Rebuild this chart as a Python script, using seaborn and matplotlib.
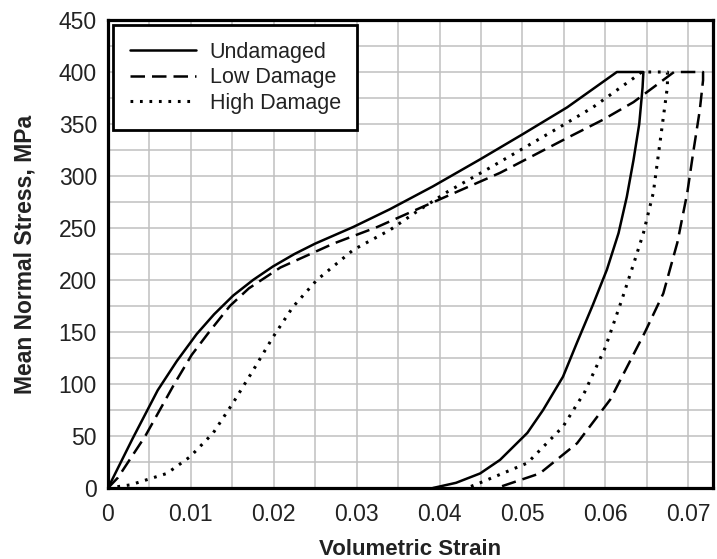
import matplotlib
matplotlib.use("Agg")
import matplotlib.pyplot as plt
import seaborn as sns
import numpy as np

# ---- data ----
undamaged_strain = [0, 0.0030, 0.0060, 0.0083, 0.0107, 0.0128, 0.0151, 0.0175, 0.0199,
                    0.0225, 0.0250, 0.0296,
                    0.0340, 0.0392, 0.0449, 0.0500, 0.0554, 0.0614, 0.0646, 0.0645, 0.0641,
                    0.0634, 0.0626, 0.0616, 0.0602, 0.0585, 0.0566, 0.0549, 0.0525, 0.0506,
                    0.0473, 0.0449, 0.0420, 0.0392]
undamaged_stress = [0, 48, 94, 122, 148, 167, 185, 200, 213,
                    225, 235, 251,
                    268, 290, 316, 340, 366, 400, 400, 385, 350,
                    315, 280, 245, 210, 176, 140, 107, 75, 53,
                    27, 14, 5, 0]

low_strain = [0, 0.0012, 0.0045, 0.0080, 0.0101, 0.0122, 0.0147, 0.0170, 0.0208, 0.0272, 0.0325,
              0.0373, 0.0433, 0.0473, 0.0555, 0.0597, 0.0634, 0.0683, 0.0718, 0.0718,
              0.0714, 0.0706, 0.0699, 0.0687, 0.0670, 0.0648, 0.0606, 0.0566, 0.0521, 0.0469]
low_stress = [0, 10, 50, 100, 128, 150, 175, 192, 212, 235, 251,
              268, 289, 303, 337, 354, 371, 400, 400, 392,
              363, 322, 284, 236, 187, 150, 85, 43, 14, 0]

high_strain = [0, 0.0027, 0.0071, 0.0099, 0.0127, 0.0151, 0.0175, 0.0199, 0.0223, 0.0252,
               0.0296, 0.0340, 0.0373, 0.0410, 0.0461, 0.0545, 0.0585, 0.0634, 0.0644,
               0.0675, 0.0675, 0.0666, 0.0658, 0.0646, 0.0634, 0.0620, 0.0600, 0.0575,
               0.0549, 0.0506, 0.0449, 0.0433]
high_stress = [0, 3, 14, 30, 53, 82, 113, 145, 174, 200,
               229, 248, 266, 285, 308, 347, 366, 394, 400,
               400, 386, 332, 284, 245, 215, 181, 135, 92,
               59, 24, 5, 0]

series_labels = ["Undamaged", "Low Damage", "High Damage"]
x_ticks = [0, 0.01, 0.02, 0.03, 0.04, 0.05, 0.06, 0.07]
x_tick_labels = ["0", "0.01", "0.02", "0.03", "0.04", "0.05", "0.06", "0.07"]
y_ticks = [0, 50, 100, 150, 200, 250, 300, 350, 400, 450]
y_tick_labels = ["0", "50", "100", "150", "200", "250", "300", "350", "400", "450"]

# ---- style ----
sns.set_style("white")
plt.rcParams["font.family"] = ["Liberation Sans", "DejaVu Sans"]

fig = plt.figure(figsize=(7.17, 5.59), dpi=100)
ax = fig.add_axes([108 / 717, 1 - 488 / 559, (713 - 108) / 717, (488 - 20) / 559])

sns.lineplot(x=undamaged_strain, y=undamaged_stress, sort=False, estimator=None,
             color="black", lw=1.8, ax=ax, label=series_labels[0])
sns.lineplot(x=low_strain, y=low_stress, sort=False, estimator=None,
             color="black", lw=1.8, linestyle=(0, (5.8, 2.8)), ax=ax, label=series_labels[1])
sns.lineplot(x=high_strain, y=high_stress, sort=False, estimator=None,
             color="black", lw=2.2, linestyle=(0, (0.9, 2.2)), ax=ax, label=series_labels[2])

ax.set_xlim(0, 0.0730)
ax.set_ylim(0, 450)
ax.set_xticks(x_ticks)
ax.set_xticklabels(x_tick_labels)
ax.set_yticks(y_ticks)
ax.set_yticklabels(y_tick_labels)
ax.set_xticks(np.arange(0, 0.0731, 0.005), minor=True)
ax.set_yticks(np.arange(0, 451, 25), minor=True)
ax.grid(True, which="both", color="#c0c0c0", lw=1.1)
ax.set_axisbelow(True)
ax.tick_params(axis="x", which="both", length=0, pad=11, labelsize=16.5, colors="#222222")
ax.tick_params(axis="y", which="both", length=0, pad=8, labelsize=16.5, colors="#222222")

for sp in ax.spines.values():
    sp.set_linewidth(2.3)
    sp.set_color("black")
    sp.set_visible(True)

ax.set_xlabel("Volumetric Strain", fontsize=16, fontweight="bold", color="#222222")
ax.set_ylabel("Mean Normal Stress, MPa", fontsize=16.5, fontweight="bold", color="#222222")
ax.xaxis.set_label_coords(0.5, -0.108)
ax.yaxis.set_label_coords(-0.118, 0.5)

handles, labels = ax.get_legend_handles_labels()
leg = ax.legend(handles, labels, loc="upper left", fontsize=15.5, frameon=True,
                fancybox=False, framealpha=1, edgecolor="black",
                borderaxespad=0.25, borderpad=0.75, handlelength=3.07,
                handletextpad=0.65, labelspacing=0.22)
leg.get_frame().set_linewidth(2.0)
for t in leg.get_texts():
    t.set_color("#222222")

fig.savefig("out.png", dpi=100)
